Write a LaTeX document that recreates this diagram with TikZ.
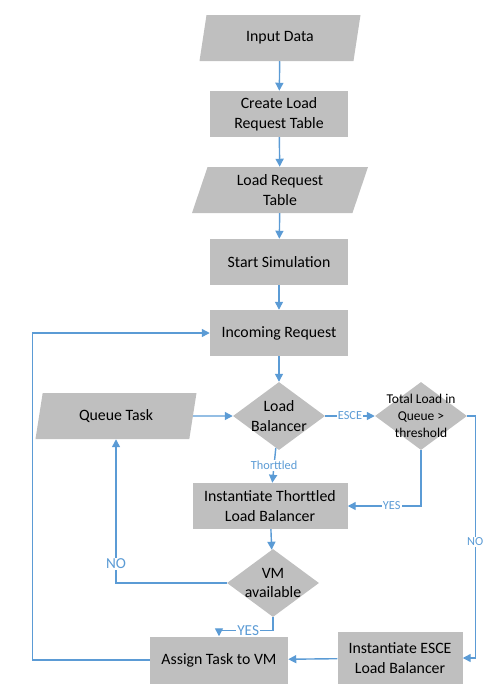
\documentclass[tikz,border=0pt]{standalone}
\usepackage{fontspec}
\setmainfont{Carlito}
\usetikzlibrary{shapes.geometric,arrows.meta}
\definecolor{boxgray}{RGB}{191,191,191}
\definecolor{linkblue}{RGB}{91,155,213}

\begin{document}
\begin{tikzpicture}[x=0.3mm,y=-0.3mm,
    every node/.style={font=\fontsize{13.5}{17}\selectfont, align=center},
    box/.style={rectangle, fill=boxgray, minimum width=41.4mm, minimum height=13.8mm, inner sep=1pt},
    io/.style={trapezium, trapezium left angle=65, trapezium right angle=115,
        trapezium stretches body, fill=boxgray, minimum width=48.3mm, minimum height=13.8mm, inner sep=1pt},
    decision/.style={diamond, fill=boxgray, minimum width=27.6mm, minimum height=20.4mm, inner sep=0pt},
    link/.style={color=linkblue, line width=1.2pt, -{Triangle[length=2.4mm,width=2.4mm]}},
    tag/.style={fill=white, text=linkblue, inner sep=1pt, font=\fontsize{10.5}{12}\selectfont}]
    \useasboundingbox (0,0) rectangle (499,684);

    % main column
    \node[io] (input) at (280,38) {Input Data};
    \node[box] (create) at (279,114) {Create Load\\Request Table};
    \node[io, minimum width=52.8mm] (table) at (280,190) {Load Request\\Table};
    \node[box] (start) at (279,262) {Start Simulation};
    \node[box] (incoming) at (279,333) {Incoming Request};
    \node[decision, label={center:Load\\Balancer}] (balancer) at (279,416) {};
    \node[box, minimum width=46.5mm] (thorttled) at (270,506) {Instantiate Thorttled\\Load Balancer};
    \node[decision, label={center:VM\\available}] (vm) at (273,583) {};
    \node[box, minimum height=14.1mm] (assign) at (219,660) {Assign Task to VM};

    % side nodes
    \node[io] (queue) at (116,416) {Queue Task};
    \node[decision, label={[font=\fontsize{11.5}{14.5}\selectfont]center:Total Load in\\Queue >\\threshold}] (total) at (421,416) {};
    \node[box, minimum width=37.5mm, minimum height=15.6mm] (esce) at (400,658) {Instantiate ESCE\\Load Balancer};

    \draw[link] (input) -- (create);
    \draw[link] (create) -- (table);
    \draw[link] (table) -- (start);
    \draw[link] (start) -- (incoming);
    \draw[link] (incoming) -- (balancer);
    \draw[link] (queue) -- (balancer);
    \draw[link] (balancer) -- node[tag] {ESCE} (total);
    \draw[link] (balancer) -- node[tag] {Thorttled} (thorttled);
    \draw[link] (total.south) |- node[tag, pos=0.7] {YES} (thorttled.east);
    \draw[link] (total.east) -- ++(8,0) |- node[tag, pos=0.26] {NO} (esce.east);
    \draw[link] (thorttled) -- (vm);
    \draw[link] (vm.west) -| node[tag, pos=0.566, font=\fontsize{13}{15}\selectfont] {NO} (queue.south);
    \draw[link] (vm.south) -- ++(0,13) -| node[tag, pos=0.23, font=\fontsize{13}{15}\selectfont] {YES} (assign.north);
    \draw[link] (esce) -- (assign);
    \draw[link] (assign.west) -- ++(-117,0) |- (incoming.west);
\end{tikzpicture}
\end{document}
